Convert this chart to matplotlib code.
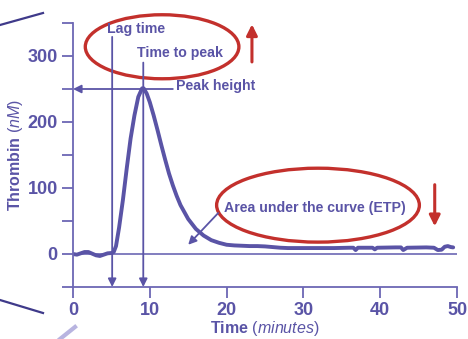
import matplotlib
matplotlib.use("Agg")
import matplotlib.pyplot as plt
from matplotlib.patches import Ellipse
from matplotlib.lines import Line2D

plt.rcParams['font.family'] = ['Liberation Sans', 'DejaVu Sans']
plt.rcParams['mathtext.fontset'] = 'custom'
plt.rcParams['mathtext.it'] = 'Liberation Sans:italic'
plt.rcParams['mathtext.rm'] = 'Liberation Sans'

PURPLE = "#5a54a6"
AXIS = "#6c67b4"
RED = "#c3302c"

# thrombin generation curve
time_min = [0, 0.5, 1, 1.5, 2, 2.5, 3, 3.5, 4, 4.5, 5, 5.3, 5.6, 6, 6.5, 7, 7.5, 8, 8.5, 9,
            9.2, 9.6, 10, 10.5, 11, 11.5, 12, 12.5, 13, 13.5, 14, 15, 16, 17, 18, 19, 20,
            21, 22, 23, 24, 25, 26, 27, 28, 30, 32, 34, 36, 36.5, 36.8, 37.1, 39, 39.3,
            39.6, 42, 42.7, 43, 43.5, 46, 47, 47.5, 48, 48.4, 48.8, 49.2, 49.5]
thrombin = [0, -1, 1, 3, 3, 0.5, -2, -3, -1, 1, 1.5, 3, 12, 40, 82, 130, 175, 210, 238, 251,
            251, 243, 230, 210, 188, 165, 143, 122, 104, 88, 74, 53, 38, 28, 21, 17, 14,
            13, 12.5, 12, 12, 11.5, 10.5, 9.5, 9, 9, 9, 9, 9.5, 9.5, 6, 9.5, 9.5, 7,
            9.5, 10, 10, 6, 9.5, 10, 9.5, 6, 6.5, 11, 12, 10.5, 10]

x_ticks = [0, 10, 20, 30, 40, 50]
y_ticks = [-50, 0, 50, 100, 150, 200, 250, 300, 350]
y_labels = ["", "0", "", "100", "", "200", "", "300", ""]

lag_time = 5.1
time_to_peak = 9.15
peak_height = 250

fig = plt.figure(figsize=(4.68, 3.39), dpi=100)
ax = fig.add_axes([73 / 468, 1 - 287 / 339, (457 - 73) / 468, (287 - 23) / 339])
ax.set_xlim(0, 50)
ax.set_ylim(-50, 350)

for s in ["top", "right"]:
    ax.spines[s].set_visible(False)
for s in ["left", "bottom"]:
    ax.spines[s].set_color(AXIS)
    ax.spines[s].set_linewidth(1.3)

ax.set_xticks(x_ticks)
ax.set_yticks(y_ticks)
ax.set_yticklabels(y_labels)
ax.tick_params(colors=AXIS, length=8, width=1.3, direction="out", pad=3)
for lab in ax.get_xticklabels() + ax.get_yticklabels():
    lab.set_color(PURPLE)
    lab.set_fontweight("bold")
    lab.set_fontsize(13)

ax.set_xlabel(r"Time $\mathit{(minutes)}$", color=PURPLE, fontweight="bold", fontsize=11.5, labelpad=0)
ax.set_ylabel(r"Thrombin $\mathit{(nM)}$", color=PURPLE, fontweight="bold", fontsize=11.5, labelpad=2)

# zero baseline
ax.plot([0, 50], [0, 0], color=AXIS, lw=1.2)
ax.plot(time_min, thrombin, color=PURPLE, lw=2.8, solid_joinstyle="round", solid_capstyle="round")

arrow_kw = dict(arrowstyle="-|>", color=PURPLE, lw=1.3, mutation_scale=12, shrinkA=0, shrinkB=0)
ax.annotate("", xy=(lag_time, -50), xytext=(lag_time, 329), arrowprops=arrow_kw, annotation_clip=False)
ax.annotate("", xy=(time_to_peak, -50), xytext=(time_to_peak, 290), arrowprops=arrow_kw, annotation_clip=False)
ax.annotate("", xy=(0, peak_height), xytext=(13, peak_height), arrowprops=arrow_kw)
ax.annotate("", xy=(15.0, 14), xytext=(18.9, 62), arrowprops=arrow_kw)

txt_kw = dict(color=PURPLE, fontweight="bold", fontsize=10.2, va="center")
ax.text(4.4, 341, "Lag time", ha="left", clip_on=False, **txt_kw)
ax.text(8.3, 304, "Time to peak", ha="left", **txt_kw)
ax.text(13.4, 255, "Peak height", ha="left", **txt_kw)
ax.text(19.6, 70, "Area under the curve (ETP)", ha="left", **txt_kw)

# red highlights
ax.add_patch(Ellipse((11.6, 314), 20.0, 97, fill=False, ec=RED, lw=2.4, clip_on=False))
ax.add_patch(Ellipse((31.9, 74), 26.4, 112, fill=False, ec=RED, lw=2.4, clip_on=False))
red_kw = dict(arrowstyle="-|>", color=RED, lw=2.2, mutation_scale=16, shrinkA=0, shrinkB=0)
ax.annotate("", xy=(23.3, 348), xytext=(23.3, 291), arrowprops=red_kw, annotation_clip=False)
ax.annotate("", xy=(47.1, 42), xytext=(47.1, 105), arrowprops=red_kw)

# cropped edges of neighbouring figure
def px_line(x0, y0, x1, y1, color, lw):
    fig.add_artist(Line2D([x0 / 468, x1 / 468], [1 - y0 / 339, 1 - y1 / 339],
                          transform=fig.transFigure, color=color, lw=lw))

px_line(0, 25, 43, 13, "#3f3a8a", 1.6)
px_line(0, 300, 43, 313, "#3f3a8a", 1.6)
px_line(60, 339, 75, 327, "#b8b4e0", 3)

fig.savefig("out.png", dpi=100)
